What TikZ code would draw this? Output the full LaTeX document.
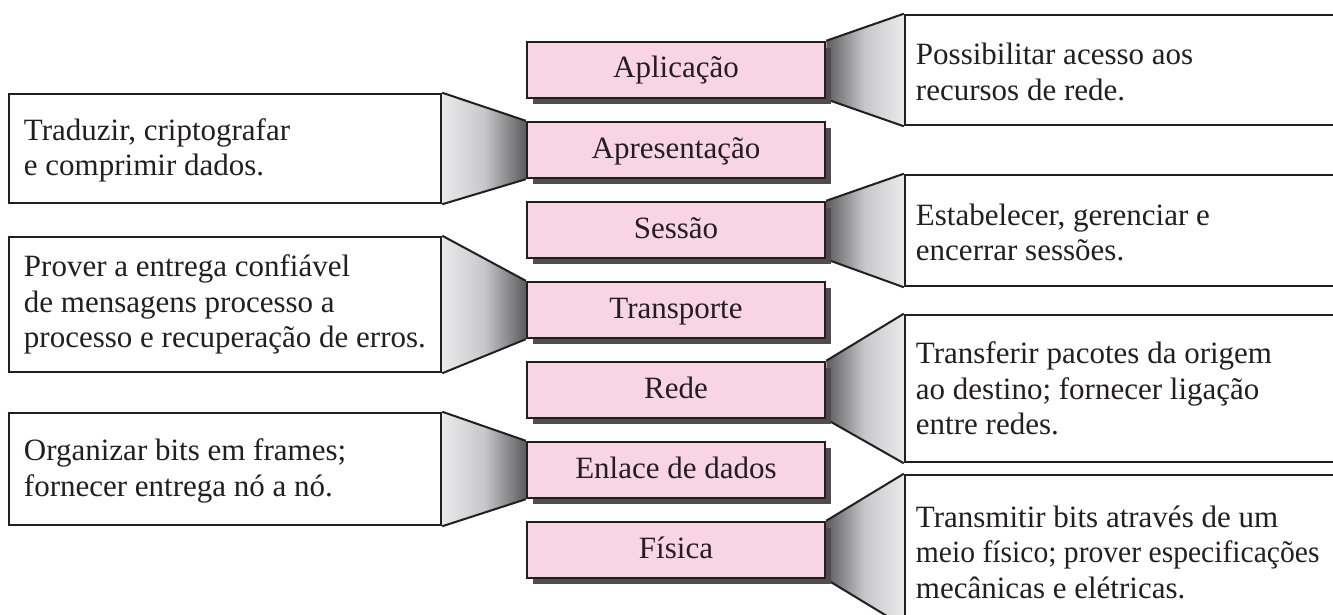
\documentclass[tikz,border=0pt]{standalone}
\usepackage{fontspec}
\setmainfont{Liberation Serif}
\newfontfamily\narrowserif[FakeStretch=0.955]{Liberation Serif}
\usetikzlibrary{shadows,backgrounds}
\definecolor{layerpink}{RGB}{249,212,228}
\definecolor{inkc}{RGB}{35,31,32}
\definecolor{shadowc}{RGB}{78,78,80}
\definecolor{funlight}{RGB}{234,234,235}
\definecolor{funmid}{RGB}{200,200,202}
\definecolor{fundark}{RGB}{92,92,95}
\begin{document}
\begin{tikzpicture}[x=1pt,y=-1pt,
  txt/.style={font=\fontsize{31pt}{35.5pt}\selectfont, text=inkc},
  layer/.style={txt, draw=inkc, line width=2.5pt, fill=layerpink,
    minimum width=298pt, minimum height=56pt, inner sep=0pt,
    text height=21pt, text depth=5pt,
    general shadow={fill=shadowc, shadow xshift=6pt, shadow yshift=-6pt}},
  tbox/.style={draw=inkc, line width=2.5pt, fill=white, inner sep=0pt},
  desc/.style={txt, align=left, inner sep=0pt, anchor=west},
  funedge/.style={draw=inkc, line width=2pt},
  funR/.style={left color=fundark, right color=funlight, middle color=funmid},
  funL/.style={left color=funlight, right color=fundark, middle color=funmid},
]
\useasboundingbox (0,0) rectangle (1333,615);

% layers
\node[layer] (apl) at (676,70)  {Aplicação};
\node[layer] (apr) at (676,150) {Apresentação};
\node[layer] (ses) at (676,230) {Sessão};
\node[layer] (tra) at (676,310) {Transporte};
\node[layer] (red) at (676,390) {Rede};
\node[layer] (enl) at (676,470) {Enlace de dados};
\node[layer] (fis) at (676,550) {Física};

% right description boxes
\node[tbox, minimum width=445pt, minimum height=110pt] (r1) at (1127.5,70) {};
\node[tbox, minimum width=445pt, minimum height=111pt] (r3) at (1127.5,230.5) {};
\node[tbox, minimum width=445pt, minimum height=147pt] (r5) at (1127.5,388.5) {};
\node[tbox, minimum width=445pt, minimum height=150pt] (r7) at (1127.5,550) {};

% left description boxes
\node[tbox, minimum width=432pt, minimum height=109pt] (l2) at (225,148.5) {};
\node[tbox, minimum width=432pt, minimum height=135pt] (l4) at (225,304.5) {};
\node[tbox, minimum width=432pt, minimum height=112pt] (l6) at (225,469) {};

% texts
\node[desc] (t1) at ([xshift=12pt,yshift=-2pt]r1.west) {Possibilitar acesso aos\\recursos de rede.};
\node[desc] (t3) at ([xshift=12pt,yshift=-2pt]r3.west) {Estabelecer, gerenciar e\\encerrar sessões.};
\node[desc] (t5) at ([xshift=12pt]r5.west) {Transferir pacotes da origem\\ao destino; fornecer ligação\\entre redes.};
\node[desc] (t7) at ([xshift=12pt,yshift=-2pt]r7.west) {Transmitir bits através de um\\{\narrowserif meio físico; prover especificações}\\mecânicas e elétricas.};
\node[desc] (t2) at ([xshift=16pt,yshift=-2pt]l2.west) {Traduzir, criptografar\\e comprimir dados.};
\node[desc] (t4) at ([xshift=16pt]l4.west) {Prover a entrega confiável\\de mensagens processo a\\processo e recuperação de erros.};
\node[desc] (t6) at ([xshift=16pt,yshift=-2pt]l6.west) {Organizar bits em frames;\\fornecer entrega nó a nó.};

% funnels
\begin{scope}[on background layer]
  \shade[funR] (apl.north east) -- (r1.north west) -- (r1.south west) -- (apl.south east) -- cycle;
  \draw[funedge] (apl.north east) -- (r1.north west);
  \draw[funedge] (apl.south east) -- (r1.south west);
  \shade[funR] (ses.north east) -- (r3.north west) -- (r3.south west) -- (ses.south east) -- cycle;
  \draw[funedge] (ses.north east) -- (r3.north west);
  \draw[funedge] (ses.south east) -- (r3.south west);
  \shade[funR] (red.north east) -- (r5.north west) -- (r5.south west) -- (red.south east) -- cycle;
  \draw[funedge] (red.north east) -- (r5.north west);
  \draw[funedge] (red.south east) -- (r5.south west);
  \shade[funR] (fis.north east) -- (r7.north west) -- (r7.south west) -- (fis.south east) -- cycle;
  \draw[funedge] (fis.north east) -- (r7.north west);
  \draw[funedge] (fis.south east) -- (r7.south west);

  \shade[funL] (l2.north east) -- (apr.north west) -- (apr.south west) -- (l2.south east) -- cycle;
  \draw[funedge] (l2.north east) -- (apr.north west);
  \draw[funedge] (l2.south east) -- (apr.south west);
  \shade[funL] (l4.north east) -- (tra.north west) -- (tra.south west) -- (l4.south east) -- cycle;
  \draw[funedge] (l4.north east) -- (tra.north west);
  \draw[funedge] (l4.south east) -- (tra.south west);
  \shade[funL] (l6.north east) -- (enl.north west) -- (enl.south west) -- (l6.south east) -- cycle;
  \draw[funedge] (l6.north east) -- (enl.north west);
  \draw[funedge] (l6.south east) -- (enl.south west);
\end{scope}
\end{tikzpicture}
\end{document}
